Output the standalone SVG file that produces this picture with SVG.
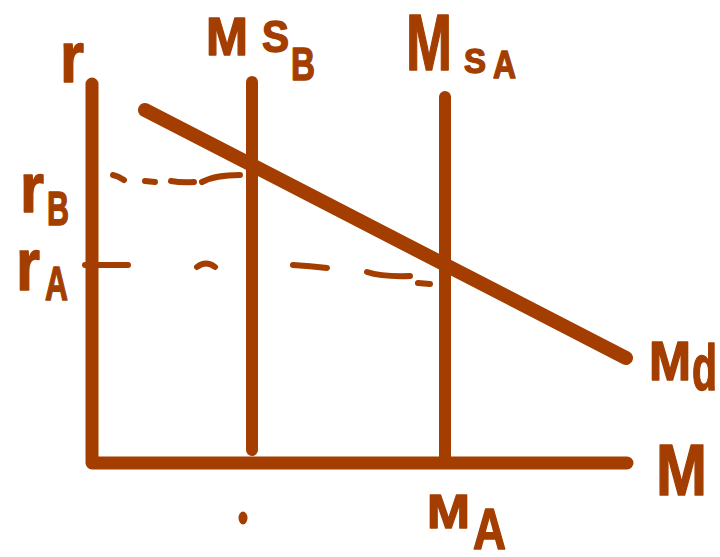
<svg xmlns="http://www.w3.org/2000/svg" width="720" height="557" viewBox="0 0 720 557">
<style>
.ln{fill:none;stroke:#A33E00;stroke-linecap:round;stroke-linejoin:round}
.ax{stroke-width:13}
.sup{stroke-width:12}
.dash{stroke-width:6}
.lbl{font-family:"Liberation Sans",Arial,sans-serif;font-weight:bold;fill:#A33E00;stroke:#A33E00;stroke-width:1.5;stroke-linejoin:round}
</style>
<rect width="720" height="557" fill="#ffffff"/>
<g id="axes">
<path class="ln ax" d="M92 84 V463 H627"/>
</g>
<g id="curves">
<path id="ms-b" class="ln sup" d="M252 82 V450"/>
<path id="ms-a" class="ln sup" d="M445 97 V460"/>
<path id="md" class="ln" stroke-width="14" d="M145 110 L626 358"/>
</g>
<g id="guides">
<path class="ln dash" d="M113 175 Q118 176 124 180 M145 181 L155 182 M171 181 Q182 183 194 182 M202 182 Q215 175 240 175"/>
<path class="ln dash" d="M85 265 L128 265 M197 267 Q206 260 215 267 M293 265 Q310 266 327 268 M367 272 Q382 277 410 276 M418 283 L430 284"/>
</g>
<g id="labels">
<text id="lbl-r" class="lbl"><tspan x="60" y="82" font-size="72" textLength="24" lengthAdjust="spacingAndGlyphs">r</tspan></text>
<text id="lbl-msb" class="lbl"><tspan x="206" y="55" font-size="54" textLength="42" lengthAdjust="spacingAndGlyphs">M</tspan><tspan x="262" y="52" font-size="44" textLength="27" lengthAdjust="spacingAndGlyphs">S</tspan><tspan x="291" y="80" font-size="46" textLength="24" lengthAdjust="spacingAndGlyphs">B</tspan></text>
<text id="lbl-msa" class="lbl"><tspan x="406" y="70" font-size="80" textLength="46" lengthAdjust="spacingAndGlyphs">M</tspan><tspan x="464" y="73" font-size="35" textLength="22" lengthAdjust="spacingAndGlyphs">S</tspan><tspan x="493" y="78" font-size="39" textLength="23" lengthAdjust="spacingAndGlyphs">A</tspan></text>
<text id="lbl-rb" class="lbl"><tspan x="20" y="212" font-size="70" textLength="24" lengthAdjust="spacingAndGlyphs">r</tspan><tspan x="47" y="225" font-size="49" textLength="22" lengthAdjust="spacingAndGlyphs">B</tspan></text>
<text id="lbl-ra" class="lbl"><tspan x="16" y="290" font-size="75" textLength="24" lengthAdjust="spacingAndGlyphs">r</tspan><tspan x="45" y="300" font-size="49" textLength="23" lengthAdjust="spacingAndGlyphs">A</tspan></text>
<text id="lbl-md" class="lbl"><tspan x="649" y="380" font-size="56" textLength="42" lengthAdjust="spacingAndGlyphs">M</tspan><tspan x="692" y="390" font-size="64" textLength="25" lengthAdjust="spacingAndGlyphs">d</tspan></text>
<text id="lbl-m" class="lbl"><tspan x="656" y="495" font-size="72" textLength="51" lengthAdjust="spacingAndGlyphs">M</tspan></text>
<text id="lbl-ma" class="lbl"><tspan x="427" y="528" font-size="49" textLength="43" lengthAdjust="spacingAndGlyphs">M</tspan><tspan x="473" y="549" font-size="57" textLength="33" lengthAdjust="spacingAndGlyphs">A</tspan></text>
<ellipse id="tick-mb" cx="243" cy="518" rx="4.5" ry="6.5" fill="#A33E00"/>
</g>
</svg>
